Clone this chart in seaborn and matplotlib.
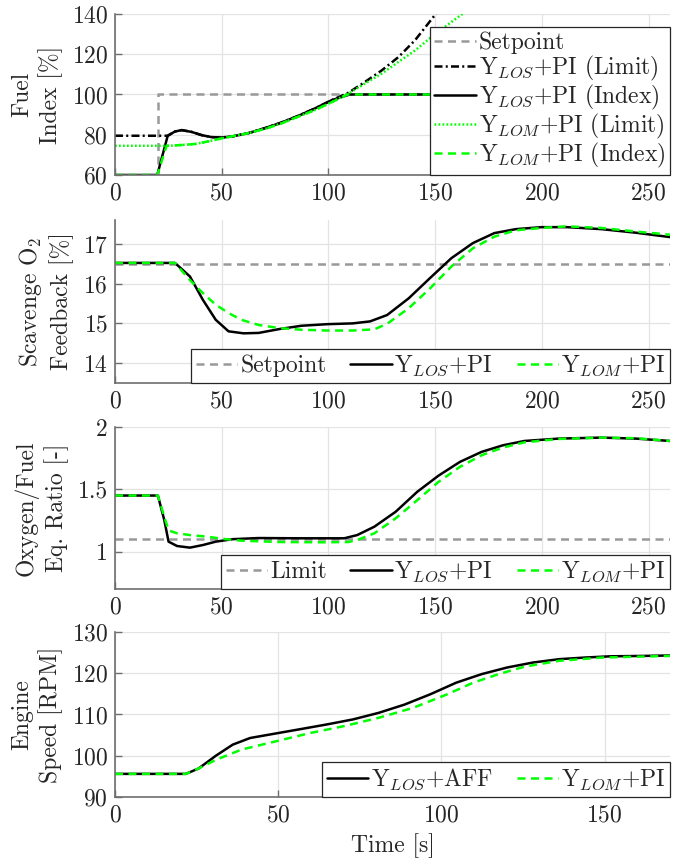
import matplotlib
matplotlib.use("Agg")
import matplotlib.pyplot as plt
import seaborn as sns
import pandas as pd

# ---------------- data ----------------
# Panel 1: Fuel index [%]
fuel_sp_t = [0, 20, 20, 260]
fuel_sp_v = [60, 60, 100, 100]
los_lim_t = [0, 23.4, 24.7, 28.1, 31.25, 35.9, 40.6, 45.3, 50, 54.7, 62.5, 70.3, 78.1, 85.9,
             93.75, 101.6, 109.4, 117.2, 125, 132.8, 140.6, 151]
los_lim_v = [79.5, 79.5, 79.5, 81.6, 82.3, 81.4, 79.8, 78.8, 78.65, 79.1, 80.8, 83.3, 86.1, 89.4,
             93.1, 97.2, 100.9, 106.3, 112, 118.6, 127, 141]
los_idx_t = [0, 19.8, 24.7, 28.1, 31.25, 35.9, 40.6, 45.3, 50, 54.7, 62.5, 70.3, 78.1, 85.9,
             93.75, 101.6, 110, 260]
los_idx_v = [60, 60, 79.5, 81.6, 82.3, 81.4, 79.8, 78.8, 78.65, 79.1, 80.8, 83.3, 86.1, 89.4,
             93.1, 97.2, 100, 100]
lom_lim_t = [0, 25, 31.25, 37.5, 43.75, 50, 56.25, 62.5, 70.3, 78.1, 85.9, 93.75, 101.6, 109.4,
             117.2, 125, 132.8, 140.6, 150, 164]
lom_lim_v = [74.5, 74.5, 74.9, 75.4, 76.7, 78.2, 79.5, 80.8, 82.9, 85.7, 89, 92.3, 96.2, 100.5,
             105.5, 110.4, 116.2, 121.9, 130.1, 141]
lom_idx_t = [0, 19.8, 24.2, 31.25, 37.5, 43.75, 50, 56.25, 62.5, 70.3, 78.1, 85.9, 93.75, 101.6,
             109, 260]
lom_idx_v = [60, 60, 74.5, 74.9, 75.4, 76.7, 78.2, 79.5, 80.8, 82.9, 85.7, 89, 92.3, 96.2,
             100, 100]

# Panel 2: Scavenge O2 feedback [%]
o2_sp_t = [0, 260]
o2_sp_v = [16.5, 16.5]
o2_los_t = [0, 28.1, 35.1, 41.2, 47.2, 53.2, 60.2, 67.3, 77.3, 87.3, 99.4, 111.4, 119.5, 127.5,
            137.6, 147.6, 157.6, 167.7, 177.7, 187.8, 199.8, 211.8, 227.9, 244, 260]
o2_los_v = [16.52, 16.52, 16.18, 15.59, 15.09, 14.80, 14.75, 14.76, 14.86, 14.94, 14.98, 15.0,
            15.05, 15.21, 15.63, 16.14, 16.64, 17.02, 17.27, 17.37, 17.42, 17.42, 17.37, 17.28, 17.17]
o2_lom_t = [0, 28.1, 35.1, 41.2, 47.2, 53.2, 59.2, 67.3, 77.3, 87.3, 99.4, 111.4, 121.5, 127.5,
            137.6, 147.6, 157.6, 167.7, 177.7, 187.8, 199.8, 211.8, 227.9, 244, 260]
o2_lom_v = [16.52, 16.52, 16.09, 15.76, 15.47, 15.26, 15.09, 14.96, 14.88, 14.84, 14.82, 14.82,
            14.85, 14.99, 15.38, 15.88, 16.43, 16.89, 17.18, 17.34, 17.40, 17.44, 17.40, 17.31, 17.23]

# Panel 3: Oxygen/Fuel equivalence ratio [-]
eq_lim_t = [0, 260]
eq_lim_v = [1.1, 1.1]
eq_los_t = [0, 20.1, 23.1, 25.1, 29.1, 35.1, 41.2, 47.2, 55.2, 67.3, 87.3, 107.4, 113.5, 121.5,
            131.5, 141.6, 151.6, 161.6, 171.7, 181.7, 191.8, 207.8, 227.9, 244, 260]
eq_los_v = [1.45, 1.45, 1.253, 1.08, 1.045, 1.032, 1.053, 1.08, 1.10, 1.109, 1.107, 1.107, 1.133,
            1.2, 1.32, 1.48, 1.61, 1.72, 1.80, 1.853, 1.888, 1.907, 1.915, 1.907, 1.888]
eq_lom_t = [0, 20.1, 23.1, 25.1, 29.1, 35.1, 43.2, 51.2, 59.2, 77.3, 97.4, 109.4, 113.5, 121.5,
            131.5, 141.6, 151.6, 161.6, 171.7, 181.7, 191.8, 207.8, 227.9, 244, 260]
eq_lom_v = [1.45, 1.45, 1.28, 1.17, 1.147, 1.133, 1.12, 1.101, 1.088, 1.077, 1.075, 1.077, 1.093,
            1.147, 1.267, 1.413, 1.56, 1.68, 1.773, 1.835, 1.877, 1.904, 1.915, 1.91, 1.888]

# Panel 4: Engine speed [RPM]
rpm_los_t = [0, 21.7, 25.6, 30.9, 36.1, 41.4, 49.3, 57.2, 65, 72.9, 80.8, 88.7, 96.6, 104.5,
             112.4, 120.2, 128.1, 136, 143.9, 151.8, 162.3, 170]
rpm_los_v = [95.6, 95.6, 96.9, 100, 102.7, 104.3, 105.4, 106.5, 107.6, 108.8, 110.4, 112.4, 114.9,
             117.7, 119.8, 121.4, 122.6, 123.4, 123.8, 124.1, 124.2, 124.3]
rpm_lom_t = [0, 21.7, 25.6, 30.9, 38.8, 49.3, 59.8, 70.3, 80.8, 91.3, 101.8, 109.7, 117.6, 125.5,
             136, 149.2, 159.7, 170]
rpm_lom_v = [95.6, 95.6, 96.9, 99.0, 101.5, 103.5, 105.5, 107.2, 109.2, 111.6, 114.9, 117.7,
             119.8, 121.6, 123.0, 123.8, 124.0, 124.2]

# ---------------- style ----------------
sns.set_theme(style="whitegrid")
plt.rcParams.update({
    "font.family": ["cmr10", "DejaVu Serif"],
    "mathtext.fontset": "cm",
    "axes.formatter.use_mathtext": True,
    "font.size": 17,
    "axes.unicode_minus": False,
})

GRAY = "#999999"
GREEN = "#00ff00"
LW = 1.8
DASH = (0, (3.2, 2.2))
DASHDOT = (0, (3.2, 1.3, 0.8, 1.3))
DOT = (0, (0.7, 0.9))

fig = plt.figure(figsize=(6.74, 8.59), dpi=100)
left, right = 0.1706, 0.994
tops = [0.9837, 0.7439, 0.5029, 0.2643]
bots = [0.7963, 0.5541, 0.3143, 0.0722]
axes = [fig.add_axes([left, b, right - left, t - b]) for t, b in zip(tops, bots)]


def line(ax, t, v, color, ls, label):
    df = pd.DataFrame({"t": t, "v": v})
    sns.lineplot(data=df, x="t", y="v", ax=ax, color=color, linestyle=ls, lw=LW,
                 estimator=None, sort=False, label=label, legend=False)


def style(ax, xlim, ylim, xticks, yticks, ylabel, yfmt=None):
    ax.set_xlim(*xlim)
    ax.set_ylim(*ylim)
    ax.set_xticks(xticks)
    ax.set_yticks(yticks)
    if yfmt:
        ax.set_yticklabels([yfmt(y) for y in yticks])
    ax.set_xlabel("")
    ax.set_ylabel(ylabel, fontsize=17, linespacing=1.3, labelpad=6, color="#262626")
    ax.grid(True, color="#e3e3e3", lw=0.9)
    ax.set_axisbelow(True)
    for s in ["top", "right"]:
        ax.spines[s].set_visible(False)
    for s in ["left", "bottom"]:
        ax.spines[s].set_visible(True)
        ax.spines[s].set_color("#6e6e6e")
        ax.spines[s].set_linewidth(1.2)
    ax.tick_params(axis="both", direction="in", length=5, width=1, color="#6e6e6e",
                   labelsize=17, labelcolor="#262626", pad=5, left=True, bottom=True)
    ax.set_facecolor("white")


def legend(ax, ncol, labelspacing=0.12, columnspacing=1.0):
    leg = ax.legend(loc="lower right", ncol=ncol, frameon=True, fancybox=False, framealpha=1,
                    edgecolor="#262626", borderaxespad=0, fontsize=17, handlelength=1.75,
                    handletextpad=0.12, columnspacing=columnspacing,
                    labelspacing=labelspacing, borderpad=0.2)
    leg.get_frame().set_linewidth(0.9)
    for txt in leg.get_texts():
        txt.set_color("#262626")
    return leg


# Panel 1
ax = axes[0]
line(ax, fuel_sp_t, fuel_sp_v, GRAY, DASH, "Setpoint")
line(ax, los_lim_t, los_lim_v, "black", DASHDOT, r"Y$_{LOS}$+PI (Limit)")
line(ax, los_idx_t, los_idx_v, "black", "-", r"Y$_{LOS}$+PI (Index)")
line(ax, lom_lim_t, lom_lim_v, GREEN, DOT, r"Y$_{LOM}$+PI (Limit)")
line(ax, lom_idx_t, lom_idx_v, GREEN, DASH, r"Y$_{LOM}$+PI (Index)")
style(ax, (0, 260), (60, 140), [0, 50, 100, 150, 200, 250], [60, 80, 100, 120, 140],
      "Fuel\nIndex [%]")
legend(ax, 1, labelspacing=0.0)

# Panel 2
ax = axes[1]
line(ax, o2_sp_t, o2_sp_v, GRAY, DASH, "Setpoint")
line(ax, o2_los_t, o2_los_v, "black", "-", r"Y$_{LOS}$+PI")
line(ax, o2_lom_t, o2_lom_v, GREEN, DASH, r"Y$_{LOM}$+PI")
style(ax, (0, 260), (13.5, 17.6), [0, 50, 100, 150, 200, 250], [14, 15, 16, 17],
      "Scavenge O$_2$\nFeedback [%]")
legend(ax, 3)

# Panel 3
ax = axes[2]
line(ax, eq_lim_t, eq_lim_v, GRAY, DASH, "Limit")
line(ax, eq_los_t, eq_los_v, "black", "-", r"Y$_{LOS}$+PI")
line(ax, eq_lom_t, eq_lom_v, GREEN, DASH, r"Y$_{LOM}$+PI")
style(ax, (0, 260), (0.7, 2.0), [0, 50, 100, 150, 200, 250], [1, 1.5, 2],
      "Oxygen/Fuel\nEq. Ratio [-]", yfmt=lambda y: f"{y:g}")
legend(ax, 3)

# Panel 4
ax = axes[3]
line(ax, rpm_los_t, rpm_los_v, "black", "-", r"Y$_{LOS}$+AFF")
line(ax, rpm_lom_t, rpm_lom_v, GREEN, DASH, r"Y$_{LOM}$+PI")
style(ax, (0, 170), (90, 130), [0, 50, 100, 150], [90, 100, 110, 120, 130],
      "Engine\nSpeed [RPM]")
ax.set_xlabel("Time [s]", fontsize=17, color="#262626", labelpad=5)
legend(ax, 2)

fig.savefig("out.png", dpi=100)
